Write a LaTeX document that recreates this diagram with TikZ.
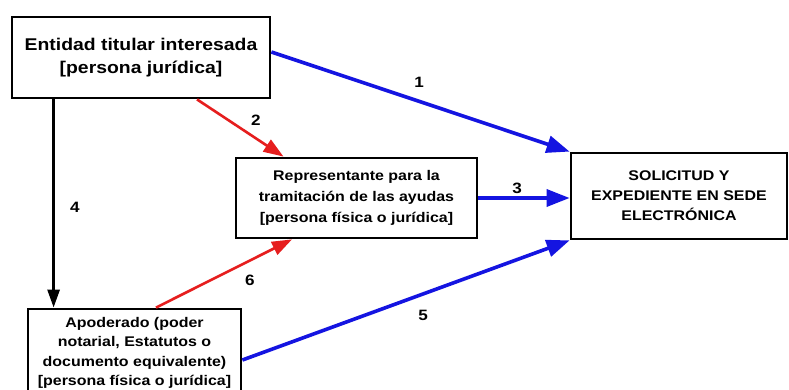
\documentclass[tikz,border=0pt]{standalone}
\usepackage{fontspec}
\setmainfont{Liberation Sans}[FakeStretch=1.14]
\usetikzlibrary{arrows.meta,calc}
\definecolor{arrblue}{RGB}{20,20,225}
\definecolor{arrred}{RGB}{230,30,30}
\begin{document}
\begin{tikzpicture}[x=1pt,y=-1pt,
  box/.style={draw, line width=2.8pt, fill=white, inner sep=0pt, align=center},
  bigtxt/.style={font=\bfseries\fontsize{17}{23}\selectfont},
  smalltxt/.style={font=\bfseries\fontsize{14}{20}\selectfont},
  lbl/.style={font=\bfseries\fontsize{15}{16}\selectfont, inner sep=0pt},
  barrow/.style={draw=arrblue, line width=3.6pt, -{Triangle[length=23pt,width=17pt]}, fill=arrblue},
  rarrow/.style={draw=arrred, line width=2.6pt, -{Triangle[length=20pt,width=14pt]}, fill=arrred},
  karrow/.style={draw=black, line width=2.8pt, -{Triangle[length=18pt,width=12pt]}, fill=black}]
\clip (0,0) rectangle (789,390);
\fill[white] (0,0) rectangle (789,390);

\node[box, bigtxt, minimum width=258, minimum height=81] (A) at (141,57.5)
  {Entidad titular interesada\\{}[persona jurídica]};
\node[box, smalltxt, minimum width=241, minimum height=80, font=\bfseries\fontsize{14}{21}\selectfont] (B) at (356.5,198)
  {Representante para la\\tramitación de las ayudas\\{}[persona física o jurídica]};
\node[box, smalltxt, minimum width=216, minimum height=86] (C) at (679,196)
  {SOLICITUD Y\\EXPEDIENTE EN SEDE\\ELECTRÓNICA};
\node[box, smalltxt, minimum width=213, minimum height=88, font=\bfseries\fontsize{14}{19.5}\selectfont] (D) at (134.5,353)
  {Apoderado (poder\\notarial, Estatutos o\\documento equivalente)\\{}[persona física o jurídica]};

\draw[barrow] ([yshift=5.5pt]A.east) -- (C.north west);
\draw[barrow] (B.east) -- (C.west |- B.east);
\draw[barrow] ([yshift=-7pt]D.east) -- (C.south west);
\draw[rarrow] ([xshift=56pt]A.south) -- ([xshift=-73pt]B.north);
\draw[rarrow] ([xshift=21.5pt]D.north) -- ([xshift=-64.5pt]B.south);
\draw[karrow] ([xshift=43pt]A.south west) -- ([xshift=27pt]D.north west);

\node[lbl] (l1) at (419,82) {1};
\node[lbl] (l2) at (256,120) {2};
\node[lbl] (l3) at (517,188) {3};
\node[lbl] (l4) at (75,207) {4};
\node[lbl] (l5) at (423,315) {5};
\node[lbl] (l6) at (250,280) {6};
\end{tikzpicture}
\end{document}
